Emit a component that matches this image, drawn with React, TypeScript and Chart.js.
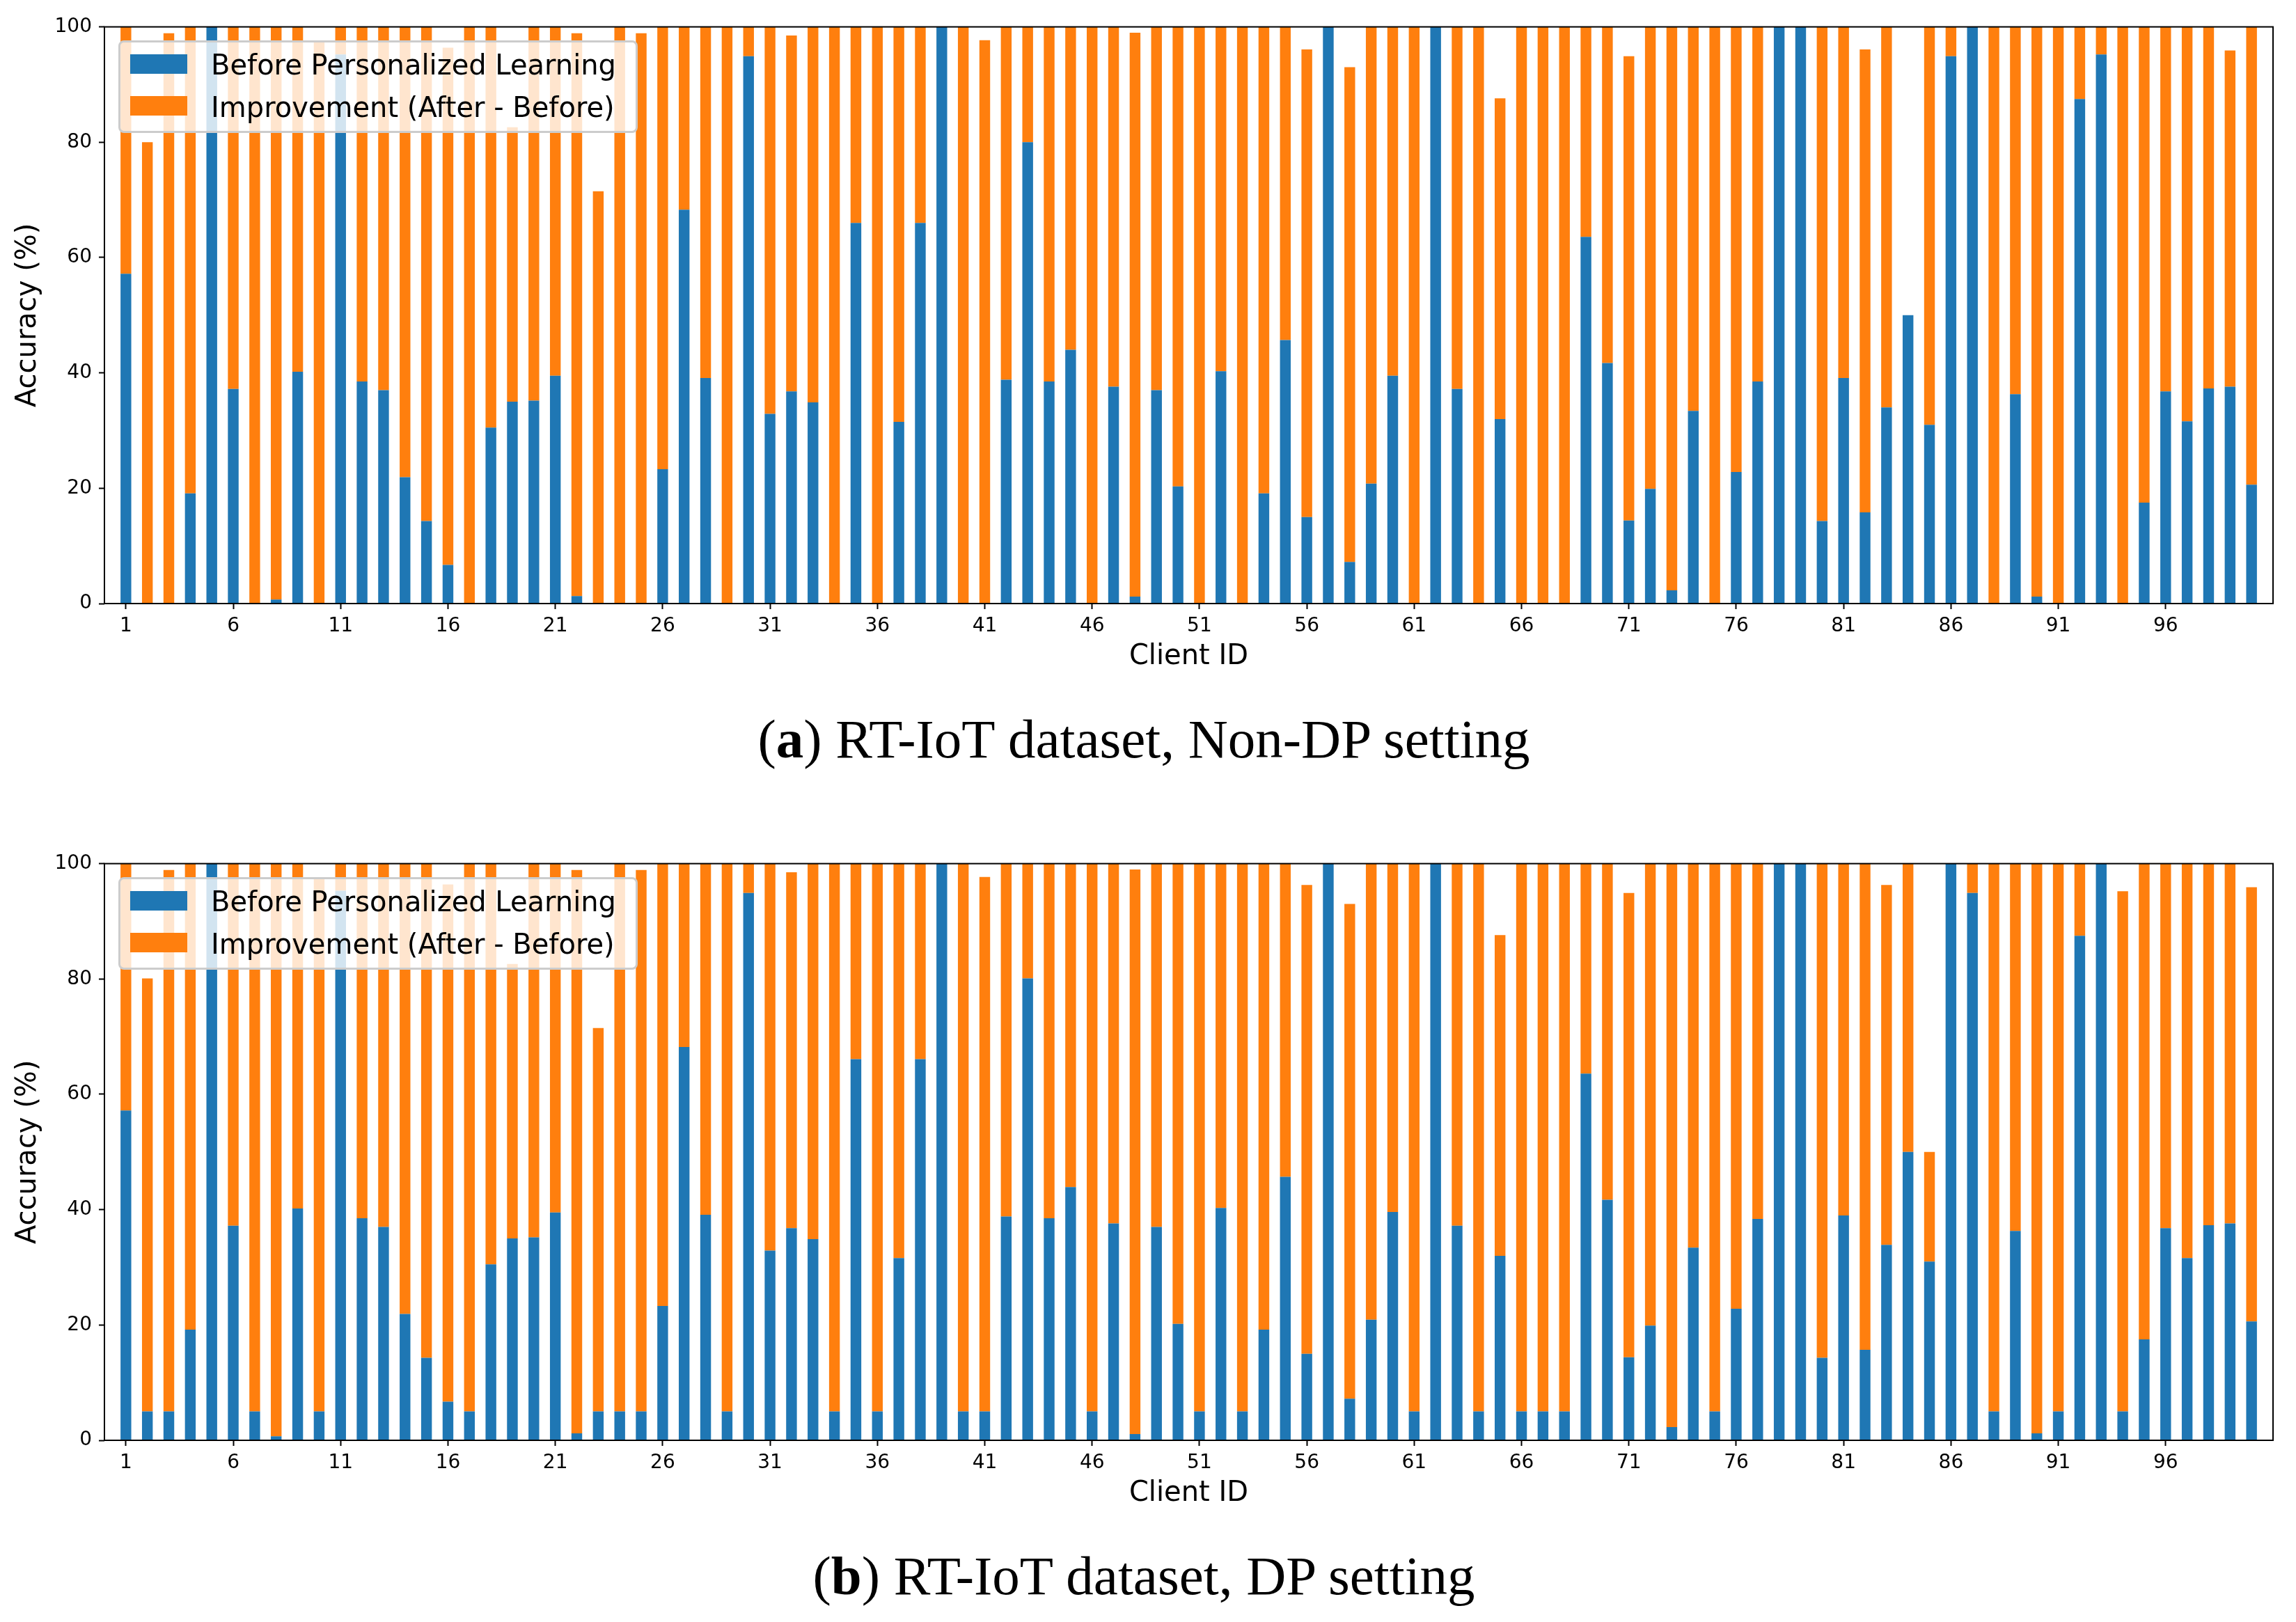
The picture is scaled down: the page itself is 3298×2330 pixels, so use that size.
import { useEffect, useRef } from "react";
import Chart from "chart.js/auto";

// client ids 1..100 and the ticks shown on the x axis
const clientIds = Array.from({ length: 100 }, (_, i) => i + 1);
const xTicks = [1, 6, 11, 16, 21, 26, 31, 36, 41, 46, 51, 56, 61, 66, 71, 76, 81, 86, 91, 96];

// (a) Non-DP: accuracy before and after personalized learning
const beforeNonDp = [
  57.2, 0, 0, 19.1, 100, 37.2, 0, 0.7, 40.2, 0,
  95.2, 38.5, 37.0, 21.9, 14.3, 6.7, 0, 30.5, 35.0, 35.2,
  39.5, 1.3, 0, 0, 0, 23.3, 68.3, 39.1, 0, 94.9,
  32.9, 36.8, 34.9, 0, 66.0, 0, 31.5, 66.0, 100, 0,
  0, 38.8, 80.0, 38.5, 44.0, 0, 37.6, 1.2, 37.0, 20.3,
  0, 40.3, 0, 19.1, 45.7, 15.0, 100, 7.2, 20.8, 39.5,
  0, 100, 37.2, 0, 32.0, 0, 0, 0, 63.6, 41.7,
  14.4, 19.9, 2.3, 33.4, 0, 22.8, 38.5, 100, 100, 14.3,
  39.1, 15.8, 34.0, 50.0, 31.0, 94.9, 100, 0, 36.3, 1.2,
  0, 87.5, 95.2, 0, 17.5, 36.8, 31.6, 37.3, 37.6, 20.6,
];
const afterNonDp = [
  100, 80.0, 98.9, 100, 100, 100, 100, 100, 100, 97.5,
  100, 100, 100, 100, 100, 96.4, 100, 100, 82.6, 100,
  100, 98.9, 71.5, 100, 98.9, 100, 100, 100, 100, 100,
  100, 98.5, 100, 100, 100, 100, 100, 100, 100, 100,
  97.7, 100, 100, 100, 100, 100, 100, 99.0, 100, 100,
  100, 100, 100, 100, 100, 96.1, 100, 93.0, 100, 100,
  100, 100, 100, 100, 87.6, 100, 100, 100, 100, 100,
  94.9, 100, 100, 100, 100, 100, 100, 100, 100, 100,
  100, 96.1, 100, 50.0, 100, 100, 100, 100, 100, 100,
  100, 100, 100, 100, 100, 100, 100, 100, 95.9, 100,
];

// (b) DP
const beforeDp = [
  57.2, 5, 5, 19.2, 100, 37.2, 5, 0.7, 40.2, 5,
  95.3, 38.5, 37.0, 21.9, 14.3, 6.7, 5, 30.5, 35.0, 35.2,
  39.5, 1.2, 5, 5, 5, 23.3, 68.2, 39.1, 5, 94.9,
  32.9, 36.8, 34.9, 5, 66.1, 5, 31.6, 66.1, 100, 5,
  5, 38.8, 80.1, 38.5, 43.9, 5, 37.6, 1.1, 37.0, 20.2,
  5, 40.3, 5, 19.2, 45.7, 15.0, 100, 7.2, 20.9, 39.6,
  5, 100, 37.2, 5, 32.0, 5, 5, 5, 63.6, 41.7,
  14.4, 19.9, 2.3, 33.4, 5, 22.8, 38.4, 100, 100, 14.3,
  39.0, 15.7, 33.9, 50.0, 31.0, 100, 94.9, 5, 36.3, 1.2,
  5, 87.5, 100, 5, 17.5, 36.8, 31.6, 37.3, 37.6, 20.6,
];
const afterDp = [
  100, 80.1, 98.9, 100, 100, 100, 100, 100, 100, 97.5,
  100, 100, 100, 100, 100, 96.4, 100, 100, 82.6, 100,
  100, 98.9, 71.5, 100, 98.9, 100, 100, 100, 100, 100,
  100, 98.5, 100, 100, 100, 100, 100, 100, 100, 100,
  97.7, 100, 100, 100, 100, 100, 100, 99.0, 100, 100,
  100, 100, 100, 100, 100, 96.3, 100, 93.0, 100, 100,
  100, 100, 100, 100, 87.6, 100, 100, 100, 100, 100,
  94.9, 100, 100, 100, 100, 100, 100, 100, 100, 100,
  100, 100, 96.3, 100, 50.0, 100, 100, 100, 100, 100,
  100, 100, 100, 95.2, 100, 100, 100, 100, 100, 95.9,
];

const BLUE = "#1f77b4";
const ORANGE = "#ff7f0e";
const W = 3298;
const H = 968;

Chart.defaults.font.family = "'DejaVu Sans', sans-serif";

// matplotlib draws all four spines
const framePlugin = {
  id: "frame",
  afterDraw(chart: any) {
    const { ctx, chartArea: a } = chart;
    ctx.save();
    ctx.strokeStyle = "#000";
    ctx.lineWidth = 2;
    ctx.strokeRect(a.left, a.top, a.right - a.left, a.bottom - a.top);
    ctx.restore();
  },
};

const tickGrid = {
  display: true,
  drawOnChartArea: false,
  drawTicks: true,
  tickLength: 8,
  tickWidth: 2,
  tickColor: "#000",
  offset: false,
};

function Panel({ before, after, top }: { before: number[]; after: number[]; top: number }) {
  const canvasRef = useRef<HTMLCanvasElement | null>(null);

  useEffect(() => {
    if (!canvasRef.current) return;
    const chart = new Chart(canvasRef.current, {
      type: "bar",
      data: {
        datasets: [
          {
            label: "Before Personalized Learning",
            data: clientIds.map((id, i) => ({ x: id, y: before[i] })),
            backgroundColor: BLUE,
            borderWidth: 0,
            barPercentage: 0.5,
            categoryPercentage: 1,
          },
          {
            label: "Improvement (After - Before)",
            data: clientIds.map((id, i) => ({ x: id, y: after[i] - before[i] })),
            backgroundColor: ORANGE,
            borderWidth: 0,
            barPercentage: 0.5,
            categoryPercentage: 1,
          },
        ],
      },
      options: {
        responsive: false,
        animation: false,
        layout: { padding: { top: 38.6, right: 33, bottom: 0, left: 0 } },
        plugins: { legend: { display: false }, tooltip: { enabled: false } },
        scales: {
          x: {
            type: "linear",
            min: 0,
            max: 101,
            offset: false,
            stacked: true,
            grid: tickGrid,
            border: { display: false },
            ticks: { color: "#000", font: { size: 28 }, padding: 8, maxRotation: 0, autoSkip: false },
            afterBuildTicks: (axis: any) => {
              axis.ticks = xTicks.map((v) => ({ value: v }));
            },
            afterFit: (s: any) => {
              s.height = 101;
            },
            title: { display: true, text: "Client ID", color: "#000", font: { size: 40 }, padding: 0 },
          },
          y: {
            min: 0,
            max: 100,
            stacked: true,
            grid: tickGrid,
            border: { display: false },
            ticks: { stepSize: 20, color: "#000", font: { size: 28 }, padding: 10 },
            afterFit: (s: any) => {
              s.width = 150;
            },
            title: {
              display: true,
              text: "Accuracy (%)",
              color: "#000",
              font: { size: 40 },
              padding: { top: 17, bottom: 0 },
            },
          },
        },
      },
      plugins: [framePlugin],
    } as any);
    return () => chart.destroy();
  }, [before, after]);

  return (
    <div style={{ position: "absolute", left: 0, top, width: W, height: H }}>
      <canvas ref={canvasRef} width={W} height={H} style={{ width: W, height: H, display: "block" }} />
      <div
        style={{
          position: "absolute",
          left: 170,
          top: 58.4,
          width: 746,
          height: 133,
          boxSizing: "border-box",
          background: "rgba(255,255,255,0.8)",
          border: "3px solid #cccccc",
          borderRadius: 8,
          fontFamily: "'DejaVu Sans', sans-serif",
          fontSize: 40,
          lineHeight: "40px",
          color: "#000",
          whiteSpace: "nowrap",
        }}
      >
        <div style={{ position: "absolute", left: 14, top: 17, width: 82, height: 28, background: BLUE }} />
        <div style={{ position: "absolute", left: 14, top: 77, width: 82, height: 28, background: ORANGE }} />
        <div style={{ position: "absolute", left: 130, top: 11.7 }}>Before Personalized Learning</div>
        <div style={{ position: "absolute", left: 130, top: 72.2 }}>Improvement (After - Before)</div>
      </div>
    </div>
  );
}

const captionStyle = {
  position: "absolute" as const,
  left: -6,
  width: W,
  textAlign: "center" as const,
  fontFamily: "'Liberation Serif', serif",
  fontSize: 79,
  lineHeight: "79px",
  color: "#000",
  whiteSpace: "nowrap" as const,
};

export default function App() {
  return (
    <div style={{ position: "absolute", left: 0, top: 0, width: W, height: 2330, background: "#fff", overflow: "hidden" }}>
      <Panel before={beforeNonDp} after={afterNonDp} top={0} />
      <div style={{ ...captionStyle, top: 1022 }}>
        (<b>a</b>) RT-IoT dataset, Non-DP setting
      </div>
      <Panel before={beforeDp} after={afterDp} top={1202} />
      <div style={{ ...captionStyle, top: 2224 }}>
        (<b>b</b>) RT-IoT dataset, DP setting
      </div>
    </div>
  );
}
